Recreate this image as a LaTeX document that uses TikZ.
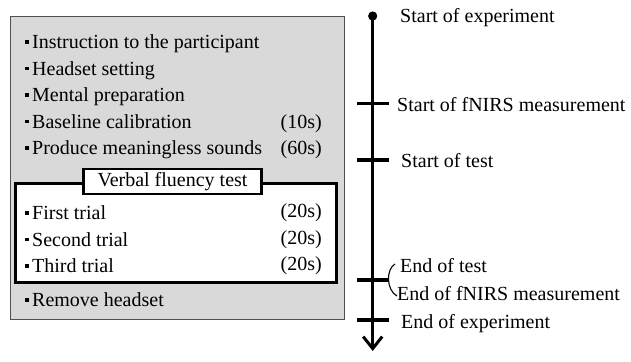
\documentclass[tikz,border=0pt]{standalone}
\usepackage{fontspec}
\setmainfont{Liberation Serif}
\usetikzlibrary{arrows.meta}

\tikzset{
  x=1pt, y=-1pt,
  txt/.style={inner sep=0pt, anchor=base west, font=\fontsize{20}{24}\selectfont},
  dur/.style={inner sep=0pt, anchor=base east, font=\fontsize{20}{24}\selectfont},
  bul/.style={fill=black, minimum size=3.4pt, inner sep=0pt},
  tick/.style={line width=3.2pt},
  axis/.style={line width=3pt},
}

\begin{document}
\begin{tikzpicture}
\useasboundingbox (0,0) rectangle (631,361);

% procedure panel
\draw[fill={rgb,255:red,217;green,217;blue,217}, draw={rgb,255:red,80;green,80;blue,80}, line width=1pt]
  (10,16.5) rectangle (344,319.5);

\node[bul] at (27,42) {};
\node[txt] (instr) at (32,48.5) {Instruction to the participant};
\node[bul] at (27,68.5) {};
\node[txt] (head) at (32,75) {Headset setting};
\node[bul] at (27,95) {};
\node[txt] (mental) at (32,101.5) {Mental preparation};
\node[bul] at (27,121.5) {};
\node[txt] (base) at (32,128) {Baseline calibration};
\node[dur] (basedur) at (322,128) {(10s)};
\node[bul] at (27,148) {};
\node[txt] (sound) at (32,154.5) {Produce meaningless sounds};
\node[dur] (sounddur) at (322,154.5) {(60s)};

% verbal fluency test block
\draw[line width=3pt, fill=white] (15,183) rectangle (336,282);
\node[draw, line width=2.6pt, fill=white, minimum width=178pt, minimum height=25pt,
      inner sep=0pt, font=\fontsize{20}{24}\selectfont] (vft) at (172.5,181.5) {Verbal fluency test};

\node[bul] at (27,213) {};
\node[txt] (t1) at (32,219.5) {First trial};
\node[dur] (t1d) at (322,217.5) {(20s)};
\node[bul] at (27,239.5) {};
\node[txt] (t2) at (32,246) {Second trial};
\node[dur] (t2d) at (322,244) {(20s)};
\node[bul] at (27,266) {};
\node[txt] (t3) at (32,272.5) {Third trial};
\node[dur] (t3d) at (322,270.5) {(20s)};

\node[bul] at (27,300) {};
\node[txt] (remove) at (32,306.5) {Remove headset};

% time axis
\coordinate (top) at (372.7,16);
\coordinate (bottom) at (372.7,351);
\draw[axis, -{Straight Barb[length=12pt, width=19pt]}] (top) -- (bottom);
\fill (top) circle (4.6pt);

\coordinate (k1a) at (357,103.5); \coordinate (k1b) at (389,103.5);
\coordinate (k2a) at (357,160);   \coordinate (k2b) at (389,160);
\coordinate (k3a) at (357,280);   \coordinate (k3b) at (388,280);
\coordinate (k4a) at (357,320);   \coordinate (k4b) at (389,320);
\draw[tick] (k1a) -- (k1b);
\draw[tick] (k2a) -- (k2b);
\draw[tick] (k3a) -- (k3b);
\draw[tick] (k4a) -- (k4b);

% paired end events
\coordinate (bt) at (395,264);
\coordinate (bb) at (397,296);
\draw[line width=1.1pt] (bt) .. controls (386,269) and (386,290) .. (bb);

\node[txt] (l0) at (400,23) {Start of experiment};
\node[txt] (l1) at (397,111) {Start of fNIRS measurement};
\node[txt] (l2) at (401,167) {Start of test};
\node[txt] (l3) at (400,272) {End of test};
\node[txt] (l4) at (397,300) {End of fNIRS measurement};
\node[txt] (l5) at (401,328) {End of experiment};
\end{tikzpicture}
\end{document}
